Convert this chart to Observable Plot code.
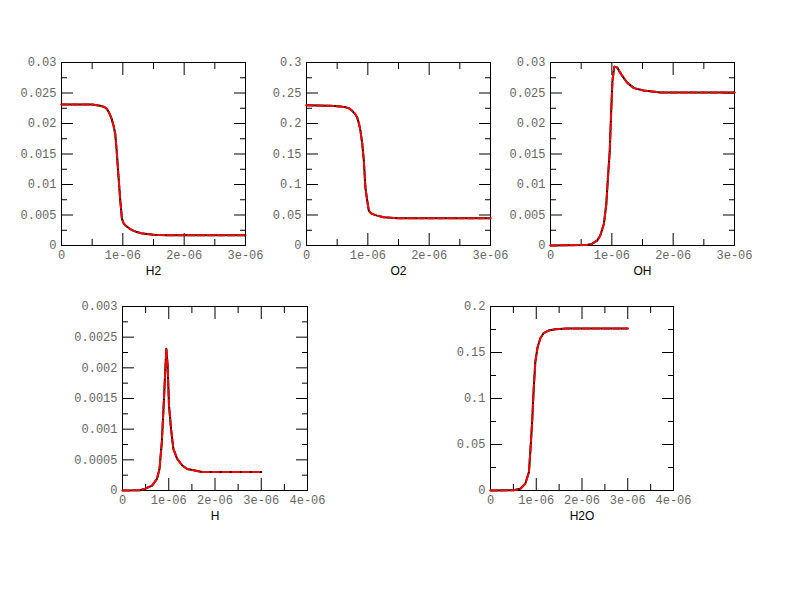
<!DOCTYPE html>
<html><head><meta charset="utf-8">
<script src="https://cdn.jsdelivr.net/npm/d3@7"></script>
<script src="https://cdn.jsdelivr.net/npm/@observablehq/plot@0.6"></script>
<style>
body{margin:0;background:#fff;}
#chart{position:relative;width:792px;height:612px;overflow:hidden;background:#fff}
#chart svg{position:absolute;overflow:visible;background:transparent}
</style></head><body><div id="chart"></div>
<script>
// time samples in microseconds (converted to seconds below)
const h2T  = [0, 0.3, 0.5, 0.63, 0.7, 0.74, 0.78, 0.82, 0.85, 0.876, 0.9, 0.93, 0.958, 0.985, 1.01, 1.04, 1.08, 1.12, 1.18, 1.23, 1.3, 1.39, 1.5, 1.7, 2.0, 2.5, 3.0];
const h2V  = [0.0231, 0.0231, 0.0231, 0.0229, 0.0227, 0.0224, 0.0217, 0.0207, 0.0196, 0.0183, 0.0155, 0.0112, 0.0074, 0.0044, 0.0037, 0.0033, 0.0030, 0.0027, 0.0024, 0.0022, 0.0020, 0.0019, 0.00175, 0.0017, 0.0017, 0.0017, 0.0017];
const o2T  = [0, 0.39, 0.55, 0.64, 0.7, 0.745, 0.79, 0.826, 0.855, 0.88, 0.91, 0.935, 0.96, 0.99, 1.016, 1.04, 1.07, 1.15, 1.26, 1.48, 2.0, 3.0];
const o2V  = [0.230, 0.229, 0.228, 0.2265, 0.2245, 0.2208, 0.216, 0.21, 0.200, 0.188, 0.166, 0.139, 0.0954, 0.0736, 0.0573, 0.054, 0.0518, 0.049, 0.0463, 0.0447, 0.0447, 0.0447];
const ohT  = [0, 0.6, 0.68, 0.76, 0.81, 0.87, 0.91, 0.93, 0.966, 0.99, 1.01, 1.04, 1.085, 1.17, 1.25, 1.36, 1.52, 1.79, 2.2, 3.0];
const ohV  = [0, 0.0001, 0.0003, 0.0008, 0.0016, 0.0035, 0.0068, 0.0101, 0.0155, 0.0221, 0.027, 0.0293, 0.0292, 0.0278, 0.0267, 0.0258, 0.0254, 0.0251, 0.0251, 0.0251];
const hT   = [0, 0.38, 0.49, 0.64, 0.745, 0.8, 0.85, 0.89, 0.92, 0.948, 0.976, 1.005, 1.05, 1.1, 1.18, 1.29, 1.4, 1.54, 1.72, 2.2, 3.0];
const hV   = [0, 0.000005, 0.00003, 0.00008, 0.00019, 0.00035, 0.00079, 0.00139, 0.00188, 0.00231, 0.00204, 0.00139, 0.001, 0.00068, 0.00052, 0.00041, 0.00035, 0.00033, 0.0003, 0.0003, 0.0003];
const h2oT = [0, 0.51, 0.65, 0.76, 0.84, 0.87, 0.91, 0.945, 0.98, 1.03, 1.09, 1.16, 1.27, 1.42, 1.67, 2.2, 3.0];
const h2oV = [0, 0.0003, 0.0018, 0.0073, 0.02, 0.0418, 0.0745, 0.111, 0.14, 0.156, 0.1655, 0.171, 0.1738, 0.1753, 0.176, 0.176, 0.176];

// tick values and labels
const xMajor3 = [0, 1e-6, 2e-6, 3e-6];
const xLabels3 = ["0", "1e-06", "2e-06", "3e-06"];
const xMinor3 = [0.5e-6, 1.5e-6, 2.5e-6];
const xMajor4 = [0, 1e-6, 2e-6, 3e-6, 4e-6];
const xLabels4 = ["0", "1e-06", "2e-06", "3e-06", "4e-06"];
const xMinor4 = [0.5e-6, 1.5e-6, 2.5e-6, 3.5e-6];

const yMajorSmall = [0, 0.005, 0.01, 0.015, 0.02, 0.025, 0.03];
const yLabelsSmall = ["0", "0.005", "0.01", "0.015", "0.02", "0.025", "0.03"];
const yMinorSmall = [0.0025, 0.0075, 0.0125, 0.0175, 0.0225, 0.0275];
const yMajorO2 = [0, 0.05, 0.1, 0.15, 0.2, 0.25, 0.3];
const yLabelsO2 = ["0", "0.05", "0.1", "0.15", "0.2", "0.25", "0.3"];
const yMinorO2 = [0.025, 0.075, 0.125, 0.175, 0.225, 0.275];
const yMajorH = [0, 0.0005, 0.001, 0.0015, 0.002, 0.0025, 0.003];
const yLabelsH = ["0", "0.0005", "0.001", "0.0015", "0.002", "0.0025", "0.003"];
const yMinorH = [0.00025, 0.00075, 0.00125, 0.00175, 0.00225, 0.00275];
const yMajorH2O = [0, 0.05, 0.1, 0.15, 0.2];
const yLabelsH2O = ["0", "0.05", "0.1", "0.15", "0.2"];
const yMinorH2O = [0.025, 0.075, 0.125, 0.175];

const names = ["H2", "O2", "OH", "H", "H2O"];

const chart = document.getElementById("chart");

function panel(o) {
  const data = o.t.map((t, i) => ({t: t * 1e-6, v: o.v[i]}));
  const mr = 14, mb = 42;
  const lab = (labels, ticks) => (d) => labels[ticks.indexOf(d)];
  const svg = Plot.plot({
    width: o.ml + o.fw + mr,
    height: o.mt + o.fh + mb,
    marginLeft: o.ml, marginRight: mr, marginTop: o.mt, marginBottom: mb,
    x: {domain: o.xDomain},
    y: {domain: o.yDomain},
    style: {background: "transparent", overflow: "visible", fontFamily: "Liberation Mono", fontSize: "12px"},
    marks: [
      Plot.axisY(o.yMinor, {anchor: "left", tickSize: -6, fill: "none", label: null}),
      Plot.axisY(o.yMinor, {anchor: "right", tickSize: -6, fill: "none", label: null}),
      Plot.axisY(o.yMajor, {anchor: "left", tickSize: -12, fill: "none", label: null}),
      Plot.axisY(o.yMajor, {anchor: "right", tickSize: -12, fill: "none", label: null}),
      Plot.axisX(o.xMinor, {anchor: "bottom", tickSize: -6, fill: "none", label: null}),
      Plot.axisX(o.xMinor, {anchor: "top", tickSize: -6, fill: "none", label: null}),
      Plot.axisX(o.xMajor, {anchor: "bottom", tickSize: -12, fill: "none", label: null}),
      Plot.axisX(o.xMajor, {anchor: "top", tickSize: -12, fill: "none", label: null}),
      Plot.axisY(o.yMajor, {anchor: "left", tickSize: 0, tickPadding: 5, tickFormat: lab(o.yLabels, o.yMajor), fill: "#666", label: null}),
      Plot.axisX(o.xMajor, {anchor: "bottom", tickSize: 0, tickPadding: 5, tickFormat: lab(o.xLabels, o.xMajor), fill: "#666", label: null}),
      Plot.frame({stroke: "black"}),
      Plot.line(data, {x: "t", y: "v", stroke: "black", strokeWidth: 2}),
      Plot.line(data, {x: "t", y: "v", stroke: "red", strokeWidth: 2, strokeDasharray: "7,3"}),
      Plot.text([o.name], {text: d => d, frameAnchor: "bottom", dy: 21, lineAnchor: "top", fontFamily: "Liberation Sans", fontSize: 12, fill: "black"})
    ]
  });
  svg.style.left = (o.fx - o.ml) + "px";
  svg.style.top = (o.fy - o.mt) + "px";
  chart.appendChild(svg);
}

const top3 = {xDomain: [0, 3e-6], xMajor: xMajor3, xLabels: xLabels3, xMinor: xMinor3, fw: 184, fh: 183, ml: 45, mt: 20};
const bot4 = {xDomain: [0, 4e-6], xMajor: xMajor4, xLabels: xLabels4, xMinor: xMinor4, fw: 184, fh: 184, ml: 55, mt: 20};

panel({...top3, fx: 61, fy: 62, name: names[0], t: h2T, v: h2V, yDomain: [0, 0.03], yMajor: yMajorSmall, yLabels: yLabelsSmall, yMinor: yMinorSmall});
panel({...top3, fx: 306, fy: 62, name: names[1], t: o2T, v: o2V, yDomain: [0, 0.3], yMajor: yMajorO2, yLabels: yLabelsO2, yMinor: yMinorO2});
panel({...top3, fx: 550, fy: 62, name: names[2], t: ohT, v: ohV, yDomain: [0, 0.03], yMajor: yMajorSmall, yLabels: yLabelsSmall, yMinor: yMinorSmall});
panel({...bot4, fx: 122, fy: 306, fw: 185, name: names[3], t: hT, v: hV, yDomain: [0, 0.003], yMajor: yMajorH, yLabels: yLabelsH, yMinor: yMinorH});
panel({...bot4, fx: 490, fy: 306, fw: 183, name: names[4], t: h2oT, v: h2oV, yDomain: [0, 0.2], yMajor: yMajorH2O, yLabels: yLabelsH2O, yMinor: yMinorH2O});
</script></body></html>
